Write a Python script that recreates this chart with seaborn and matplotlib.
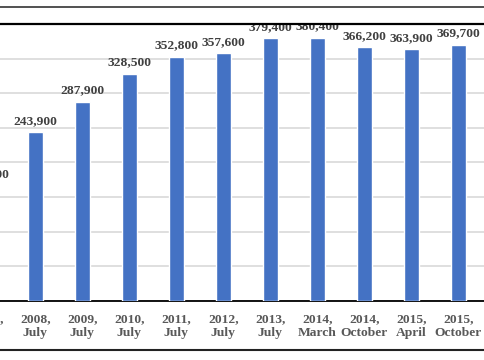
import matplotlib
matplotlib.use("Agg")
import matplotlib.pyplot as plt
import matplotlib.transforms as mtransforms
from matplotlib.lines import Line2D
import seaborn as sns
import pandas as pd

categories = ["2007,\nJuly", "2008,\nJuly", "2009,\nJuly", "2010,\nJuly", "2011,\nJuly",
              "2012,\nJuly", "2013,\nJuly", "2014,\nMarch", "2014,\nOctober",
              "2015,\nApril", "2015,\nOctober", "2016,\nApril"]
values = [167500, 243900, 287900, 328500, 352800, 357600, 379400, 380400,
          366200, 363900, 369700, 370800]
y_ticks = [0, 50000, 100000, 150000, 200000, 250000, 300000, 350000, 400000]

df = pd.DataFrame({"period": categories, "count": values})

sns.set_theme(style="white")
plt.rcParams["font.family"] = ["Liberation Serif", "DejaVu Serif"]

fig = plt.figure(figsize=(4.85, 3.6), dpi=100)
W, H = 485, 360
x_left, x_right = -35.3, 528.8
y_top, y_bot = 24, 301
ax = fig.add_axes([x_left / W, (H - y_bot) / H, (x_right - x_left) / W, (y_bot - y_top) / H])

sns.barplot(data=df, x="period", y="count", color="#4472C4", saturation=1,
            width=0.32, ax=ax, zorder=3)

ax.set_ylim(0, 400000)
ax.set_xlim(-0.5, len(categories) - 0.5)
ax.set_yticks(y_ticks)
ax.yaxis.grid(True, color="#D9D9D9", linewidth=1.2, zorder=0)
ax.set_axisbelow(True)
ax.set_xlabel("")
ax.set_ylabel("")
ax.tick_params(axis="y", left=False, labelleft=False)
ax.tick_params(axis="x", bottom=False, pad=3)
for lab in ax.get_xticklabels():
    lab.set_fontsize(9.7)
    lab.set_fontweight("bold")
    lab.set_color("#595959")
    lab.set_linespacing(1.12)

for side in ["left", "right"]:
    ax.spines[side].set_visible(False)
ax.spines["bottom"].set_color("black")
ax.spines["bottom"].set_linewidth(1.3)
ax.spines["top"].set_color("black")
ax.spines["top"].set_linewidth(1.6)
ax.spines["top"].set_zorder(5)

offset = mtransforms.offset_copy(ax.transData, fig=fig, x=0, y=6.0, units="points")
for patch, v in zip(ax.patches, values):
    cx = patch.get_x() + patch.get_width() / 2
    ax.text(cx, v, f"{v:,}", transform=offset, ha="center", va="baseline",
            fontsize=9.7, fontweight="bold", color="#404040", clip_on=True, zorder=4)

fig.add_artist(Line2D([0, 1], [(H - 7) / H, (H - 7) / H], transform=fig.transFigure,
                      color="#333333", linewidth=1.2))
fig.add_artist(Line2D([0, 1], [(H - 350) / H, (H - 350) / H], transform=fig.transFigure,
                      color="#222222", linewidth=1.5))

fig.savefig("out.png", dpi=100)
